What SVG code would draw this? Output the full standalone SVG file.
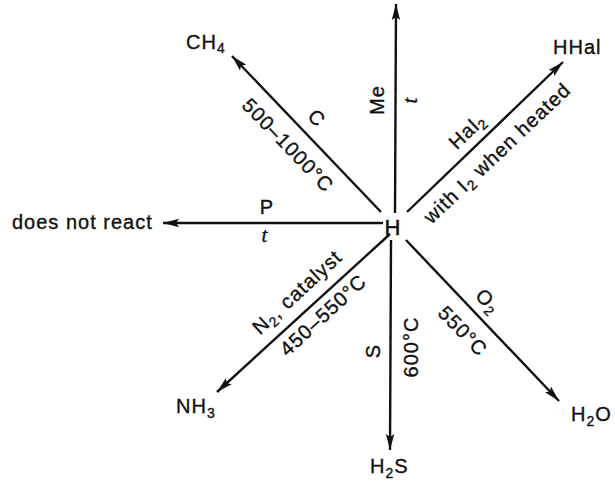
<svg xmlns="http://www.w3.org/2000/svg" width="615" height="481" viewBox="0 0 615 481">
<defs>
<marker id="ah" markerUnits="userSpaceOnUse" markerWidth="18" markerHeight="10" refX="16" refY="5" orient="auto">
<path d="M0,0.8 L16,5 L0,9.2 L3,5 Z" fill="#111"/>
</marker>
<style>
.ln{stroke:#111;stroke-width:2.4;fill:none;marker-end:url(#ah)}
text{font-family:"Liberation Sans",Arial,sans-serif;font-size:20px;fill:#111;stroke:#111;stroke-width:0.35px;letter-spacing:1px}
.lab{text-anchor:middle}
.it{font-family:"Liberation Serif","Times New Roman",serif;font-style:italic;font-size:21px}
.sub{font-size:14px}
.big{font-size:22px;stroke-width:0.5px}
</style>
</defs>
<rect width="615" height="481" fill="#fff"/>
<g id="connectors">
<line class="ln" x1="395" y1="213" x2="396" y2="4"/>
<line class="ln" x1="381" y1="212" x2="232" y2="56"/>
<line class="ln" x1="407" y1="212" x2="563" y2="62"/>
<line class="ln" x1="383" y1="223" x2="163" y2="223"/>
<line class="ln" x1="390" y1="234" x2="217" y2="392"/>
<line class="ln" x1="391" y1="240" x2="390" y2="450"/>
<line class="ln" x1="406" y1="240" x2="559" y2="401"/>
</g>
<g id="node-H"><text x="393" y="235" class="lab big">H</text></g>
<g id="node-CH4"><text x="186" y="49">CH<tspan class="sub" dy="4">4</tspan></text></g>
<g id="node-HHal"><text x="553" y="54">HHal</text></g>
<g id="node-none"><text x="12" y="229">does not react</text></g>
<g id="node-NH3"><text x="176" y="413">NH<tspan class="sub" dy="5">3</tspan></text></g>
<g id="node-H2S"><text x="370" y="473">H<tspan class="sub" dy="5">2</tspan><tspan dy="-5">S</tspan></text></g>
<g id="node-H2O"><text x="571" y="421">H<tspan class="sub" dy="5">2</tspan><tspan dy="-5">O</tspan></text></g>
<g id="labels">
<text class="lab" transform="translate(317,118) rotate(46)" y="7">C</text>
<text class="lab" transform="translate(288,145) rotate(46)" y="7">500–1000°C</text>
<text class="lab" transform="translate(377,100) rotate(-90)" y="7">Me</text>
<text class="lab it" transform="translate(411,100) rotate(-90)" y="6">t</text>
<text class="lab" transform="translate(467,131) rotate(-43.5)" y="7">Hal<tspan class="sub" dy="4">2</tspan></text>
<text class="lab" transform="translate(497,153) rotate(-43.5)" y="7">with I<tspan class="sub" dy="4">2</tspan><tspan dy="-4"> when heated</tspan></text>
<text class="lab" x="267" y="214">P</text>
<text class="lab it" x="265" y="242">t</text>
<text class="lab" transform="translate(297,292) rotate(-42.6)" y="7">N<tspan class="sub" dy="4">2</tspan><tspan dy="-4">, catalyst</tspan></text>
<text class="lab" transform="translate(323,315) rotate(-42.6)" y="7">450–550°C</text>
<text class="lab" transform="translate(373,351) rotate(-90)" y="7">S</text>
<text class="lab" transform="translate(411,347) rotate(-90)" y="7">600°C</text>
<text class="lab" transform="translate(488,301) rotate(46)" y="7">O<tspan class="sub" dy="4">2</tspan></text>
<text class="lab" transform="translate(463,331) rotate(46)" y="7">550°C</text>
</g>
</svg>
